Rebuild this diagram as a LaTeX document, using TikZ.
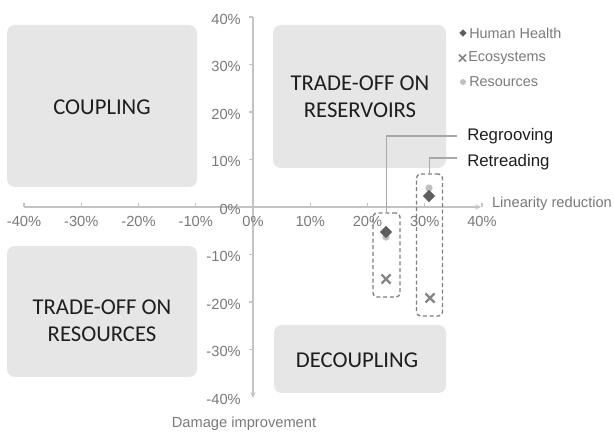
\documentclass[tikz,border=0pt]{standalone}
\usepackage{fontspec}
\setmainfont{Liberation Sans}
\newfontfamily\boxfont{Carlito}
\usetikzlibrary{arrows.meta,shapes.geometric}
\definecolor{boxgray}{HTML}{E6E6E6}
\definecolor{boxtext}{HTML}{1E1E1E}
\definecolor{axisgray}{HTML}{C4C4C4}
\definecolor{labgray}{HTML}{7A7A7A}
\definecolor{hhcol}{HTML}{5E5E5E}
\definecolor{ecocol}{HTML}{858585}
\definecolor{rescol}{HTML}{C0C0C0}
\definecolor{dashcol}{HTML}{7F7F7F}
\definecolor{leadcol}{HTML}{A8A8A8}
\newcommand\ecocross[4]{% x, y, half-size, width
  \draw[ecocol, line width=#4] (#1-#3,#2-#3) -- (#1+#3,#2+#3) (#1-#3,#2+#3) -- (#1+#3,#2-#3);}
\begin{document}
\begin{tikzpicture}[x=0.75pt,y=-0.75pt,
  axis/.style={draw=axisgray, line width=0.9pt},
  tlab/.style={text=labgray, font=\fontsize{11}{13}\selectfont, inner sep=0pt},
  legtext/.style={text=labgray, font=\fontsize{10.8}{13}\selectfont, inner sep=0pt, anchor=west},
  quadfill/.style={fill=boxgray, rounded corners=6pt},
  quadtext/.style={font=\boxfont\fontsize{17}{20.3}\selectfont, text=boxtext, align=center, inner sep=0pt},
  hhmark/.style={diamond, fill=hhcol, inner sep=0pt},
  resmark/.style={circle, fill=rescol, inner sep=0pt},
  dbox/.style={draw=dashcol, dash pattern=on 3pt off 2pt, line width=1pt, rounded corners=3pt, inner sep=0pt},
  callout/.style={text=boxtext, font=\fontsize{12.6}{15}\selectfont, inner sep=0pt, anchor=west},
  leader/.style={draw=leadcol, line width=0.8pt}]
\useasboundingbox (0,0) rectangle (614,434);
\fill[white] (0,0) rectangle (614,434);

% quadrant boxes
\fill[quadfill] (7,25) rectangle (197,187);
\fill[quadfill] (273,25) rectangle (446,168);
\fill[quadfill] (7,246) rectangle (197,377);
\fill[quadfill] (274,325) rectangle (446,393);
\node[quadtext] (coupling) at (102,107) {COUPLING};
\node[quadtext] (reservoirs) at (360,97) {TRADE-OFF ON\\RESERVOIRS};
\node[quadtext] (resources) at (102,321) {TRADE-OFF ON\\RESOURCES};
\node[quadtext] (decoupling) at (357,360) {DECOUPLING};

% axes
\coordinate (xs) at (24,207);
\coordinate (xe) at (481,207);
\coordinate (ys) at (253,17);
\coordinate (ye) at (253,398);
\draw[axis, -{Stealth[length=4.5pt,width=4pt]}] (xs) -- (xe);
\draw[axis, -{Stealth[length=4.5pt,width=4pt]}] (ys) -- (ye);
\foreach \v in {-40,-30,...,40}
  \draw[axis] ({253+5.725*\v},207) -- ++(0,-4);
\foreach \v in {-30,-20,...,40}
  \draw[axis] (249,{207-4.75*\v}) -- (253,{207-4.75*\v});

% tick labels
\foreach \v in {-40,-30,...,40}
  \node[tlab] (xt\v) at ({253+5.725*\v},221) {\v\%};
\foreach \v in {-40,-30,...,40}
  \node[tlab, anchor=east] (yt\v) at (241,{209-4.75*\v}) {\v\%};

\node[tlab] (xtitle) at (552,204) {Linearity reduction};
\node[tlab] (ytitle) at (244,424) {Damage improvement};

% legend
\node[hhmark, minimum size=5.5pt] (lg1m) at (463,33) {};
\node[legtext] (lg1) at (469,33) {Human Health};
\ecocross{462.5}{58}{3.6}{1.3pt}
\coordinate (lg2m) at (462.5,58);
\node[legtext] (lg2) at (468,58) {Ecosystems};
\node[resmark, minimum size=4.5pt] (lg3m) at (463,82) {};
\node[legtext] (lg3) at (469,82) {Resources};

% data
\node[resmark, minimum size=5.5pt] (regres) at (386,237) {};
\node[hhmark, minimum size=9.5pt] (reghh) at (386,232) {};
\ecocross{386}{279}{4.5}{1.6pt}
\node[resmark, minimum size=5.5pt] (retres) at (429,188) {};
\node[hhmark, minimum size=9.5pt] (rethh) at (429,196) {};
\ecocross{430}{298}{4.5}{1.6pt}

% dashed groups
\node[dbox, minimum width=20.25pt, minimum height=63pt] (regbox) at (386.5,255) {};
\node[dbox, minimum width=19.5pt, minimum height=106.5pt] (retbox) at (429.5,245) {};

% callouts
\node[callout] (regl) at (467,136) {Regrooving};
\node[callout] (retl) at (467,162) {Retreading};
\coordinate (regend) at (457,136);
\coordinate (retend) at (457,158);
\draw[leader] (regbox.north) |- (regend);
\draw[leader] (retbox.north) |- (retend);
\end{tikzpicture}
\end{document}
